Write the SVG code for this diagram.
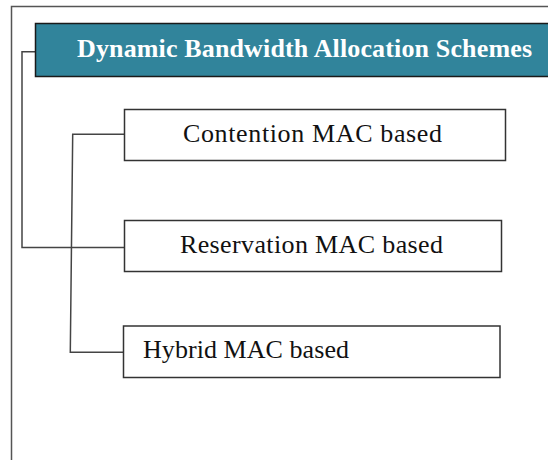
<svg xmlns="http://www.w3.org/2000/svg" width="548" height="460" viewBox="0 0 548 460">
<style>
.frame{fill:none;stroke:#555;stroke-width:1.5}
.box{fill:#fff;stroke:#333;stroke-width:1.5}
.head{fill:#31849b;stroke:#1a1a1a;stroke-width:1.5}
.lbl{font-family:"Liberation Serif","Times New Roman",serif;font-size:26px;fill:#111}
.htxt{font-family:"Liberation Serif","Times New Roman",serif;font-size:26px;font-weight:bold;fill:#fff}
.conn{fill:none;stroke:#444;stroke-width:1.5}
</style>
<rect width="548" height="460" fill="#fff"/>
<path class="frame" d="M11.5,462 V6.5 H550"/>
<g id="connectors">
<path class="conn" d="M35,51.7 H22 V247.5 H124"/>
<path class="conn" d="M124,134.3 H72.7 L70.3,352.3 H123.3"/>
</g>
<g id="header">
<rect class="head" x="35.5" y="23.5" width="514" height="53"/>
<text class="htxt" x="77" y="57" textLength="455" lengthAdjust="spacing">Dynamic Bandwidth Allocation Schemes</text>
</g>
<g id="contention">
<rect class="box" x="124.5" y="109.5" width="381" height="51"/>
<text class="lbl" x="183" y="142" textLength="259" lengthAdjust="spacing">Contention MAC based</text>
</g>
<g id="reservation">
<rect class="box" x="124.5" y="220.5" width="377" height="51"/>
<text class="lbl" x="180" y="252.5" textLength="263" lengthAdjust="spacing">Reservation MAC based</text>
</g>
<g id="hybrid">
<rect class="box" x="123.5" y="326" width="376.5" height="51.5"/>
<text class="lbl" x="143" y="358" textLength="206" lengthAdjust="spacing">Hybrid MAC based</text>
</g>
</svg>
